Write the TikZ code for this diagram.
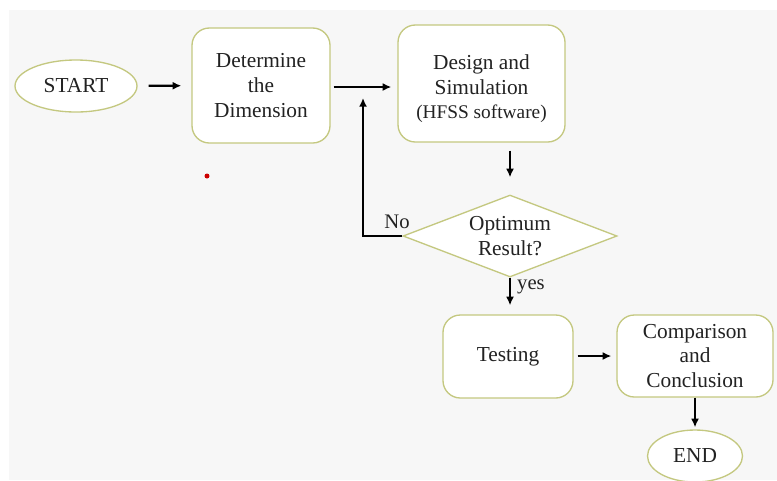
\documentclass[tikz,border=0pt]{standalone}
\usepackage{fontspec}
\setmainfont{Liberation Serif}
\usetikzlibrary{shapes.geometric,arrows.meta}

\definecolor{boxline}{RGB}{196,200,128}
\definecolor{pagegray}{RGB}{247,247,247}
\definecolor{inkgray}{RGB}{34,34,34}

\tikzset{every picture/.style={line width=0.75pt}}
\tikzset{
  stepbox/.style={draw=boxline, fill=white, line width=1pt, rounded corners=13pt, align=center, inner sep=0pt, text=inkgray, font=\fontsize{16}{18.5}\selectfont},
  termbox/.style={draw=boxline, fill=white, line width=1pt, ellipse, inner sep=0pt, text=inkgray, font=\fontsize{16}{18.5}\selectfont},
  askbox/.style={draw=boxline, fill=white, line width=1pt, diamond, aspect=2.6, inner sep=0pt, align=center, text=inkgray, font=\fontsize{16}{18.5}\selectfont},
  flowarrow/.style={line width=1.7pt, -{Latex[length=6.5pt,width=6pt]}},
  edgelabel/.style={text=inkgray, font=\fontsize{15.5}{18}\selectfont},
}

\begin{document}
\begin{tikzpicture}[x=0.75pt,y=0.75pt,yscale=-1]
\useasboundingbox (0,0) rectangle (777,480);
\fill[pagegray] (9,10) rectangle (777,480);

%Ellipse
\node[termbox, minimum width=91.5pt, minimum height=39pt] (start) at (76,86) {START};
%Rounded Rect
\node[stepbox, minimum width=103.5pt, minimum height=86.25pt] (dim) at (261,85.5) {Determine\\the\\Dimension};
%Rounded Rect
\node[stepbox, minimum width=125.25pt, minimum height=87.75pt] (design) at (481.5,83.5) {\rule{0pt}{19pt}Design and\\Simulation\\{\fontsize{14.5}{18}\selectfont(HFSS software)}};
%Diamond
\node[askbox, minimum width=160.5pt, minimum height=61.5pt] (dia) at (510,236) {Optimum\\Result?};
%Rounded Rect
\node[stepbox, minimum width=97.5pt, minimum height=62.25pt] (test) at (508,356.5) {Testing};
%Rounded Rect
\node[stepbox, minimum width=117pt, minimum height=61.5pt] (comp) at (695,356) {Comparison\\and\\Conclusion};
%Ellipse
\node[termbox, minimum width=71.25pt, minimum height=39pt] (end) at (695,456) {END};

%Straight Lines
\coordinate (midrow) at (0,87);
\draw[flowarrow, shorten <=8.25pt, shorten >=7.5pt] (start) -- (dim);
\draw[flowarrow, shorten <=2.25pt, shorten >=4.5pt] (dim.east |- midrow) -- (design.west |- midrow);
\draw[flowarrow, shorten <=6pt, shorten >=12.75pt] (design.south -| dia.north) -- (dia.north);
\draw[flowarrow, shorten >=6.75pt] (dia.south) -- (dia.south |- test.north);
\draw[flowarrow, shorten <=3pt, shorten >=3.75pt] (test.east |- comp.east) -- (comp.west);
\draw[flowarrow, shorten >=1.5pt] (comp.south) -- (end.north);

%Feedback line
\coordinate (fbtop) at (363,98);
\draw[flowarrow] (dia.west) -| (fbtop);

% Text Node
\node[edgelabel] (nolbl) at (397,222) {No};
% Text Node
\node[edgelabel] (yeslbl) at (531,287) {yes};

%stray dot
\fill[red!80!black] (207,176) circle (2.5);

\end{tikzpicture}
\end{document}
